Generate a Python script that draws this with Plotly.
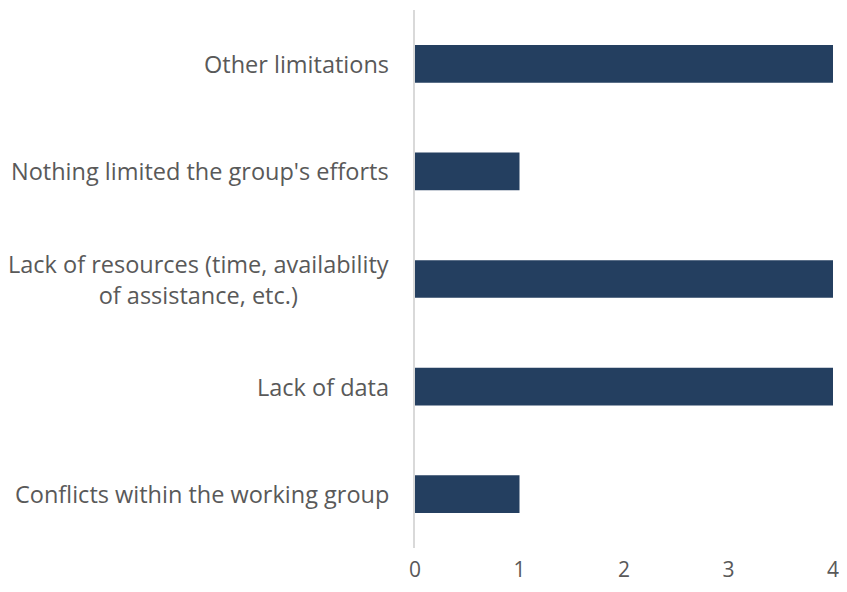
import plotly.graph_objects as go

categories = [
    "Conflicts within the working group",
    "Lack of data",
    "Lack of resources (time, availability<br>of assistance, etc.)",
    "Nothing limited the group's efforts",
    "Other limitations",
]
values = [1, 4, 4, 1, 4]
x_ticks = [0, 1, 2, 3, 4]

fig = go.Figure(go.Bar(
    x=values, y=categories, orientation="h",
    marker=dict(color="#243F60", line=dict(width=0)),
))

for c in categories:
    fig.add_annotation(
        x=0, xref="paper", y=c, yref="y", text=c, showarrow=False,
        xanchor="right", yanchor="middle", align="center", xshift=-24,
        font=dict(family="Open Sans", size=23.5, color="#595959"),
    )

fig.update_layout(
    width=831, height=576,
    margin=dict(l=407, r=6, t=2, b=36),
    plot_bgcolor="white", paper_bgcolor="white",
    bargap=0.65,
    showlegend=False,
    font=dict(family="Open Sans", size=21, color="#595959"),
)
fig.update_xaxes(
    range=[0, 4], tickvals=x_ticks, showgrid=False, zeroline=False,
    showline=False, ticks="", tickfont=dict(size=21, color="#595959"),
    ticklabelstandoff=7, ticklabeloverflow="allow", automargin=False,
)
fig.update_yaxes(
    showgrid=False, zeroline=False, showline=True, linecolor="#D9D9D9",
    linewidth=2, ticks="", showticklabels=False, automargin=False,
)

fig.write_html("out.html")
